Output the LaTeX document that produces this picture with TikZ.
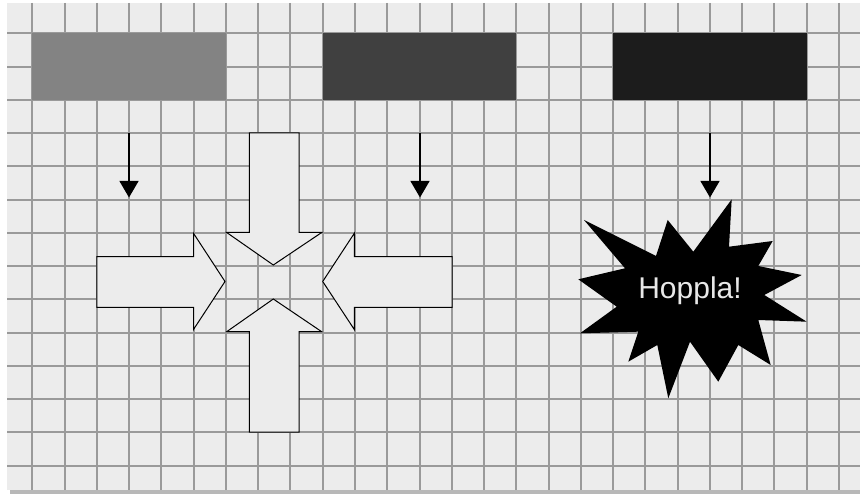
\documentclass[tikz,border=0pt]{standalone}
\usepackage{fontspec}
\setmainfont{Liberation Sans}
\usetikzlibrary{arrows.meta}
\definecolor{bg}{HTML}{ECECEC}
\definecolor{gridc}{HTML}{9A9A9A}
\definecolor{shadowc}{HTML}{B8B8B8}
\definecolor{boxa}{HTML}{838383}
\definecolor{boxb}{HTML}{404040}
\definecolor{boxc}{HTML}{1C1C1C}
\definecolor{texc}{HTML}{E8E8E8}
\tikzset{
  gridline/.style={draw=gridc, line width=1.5pt},
  colbox/.style={draw=none, minimum width=193.6pt, minimum height=66.5pt, inner sep=0pt},
  droparrow/.style={draw=black, line width=1.2pt, -{Triangle[width=19pt,length=16.5pt]}},
  blockarrow/.style={draw=black, fill=bg, line width=1pt, line join=miter},
  burst/.style={fill=black},
  bursttext/.style={text=texc, font=\fontsize{30}{36}\selectfont, inner sep=0pt, anchor=base}
}
\begin{document}
\begin{tikzpicture}[x=1pt,y=-1pt]
\useasboundingbox (0,0) rectangle (860,494);
\fill[white] (0,0) rectangle (860,494);
\fill[shadowc] (10,489) rectangle (860,494);
\fill[bg] (7,3) rectangle (860,490);
\begin{scope}
  \clip (7,3) rectangle (860,490);
  \foreach \i in {1,...,26} {
    \pgfmathsetmacro{\gxx}{round(\i*32.27)}
    \draw[gridline] (\gxx,3) -- (\gxx,490);
  }
  \foreach \j in {1,...,14} {
    \pgfmathsetmacro{\gyy}{round(\j*33.25)}
    \draw[gridline] (7,\gyy) -- (860,\gyy);
  }
\end{scope}

% colour boxes
\node[colbox, fill=boxa] (boxA) at (129.1,66.5) {};
\node[colbox, fill=boxb] (boxB) at (419.5,66.5) {};
\node[colbox, fill=boxc] (boxC) at (709.9,66.5) {};

% small drop arrows
\coordinate (dA1) at (129,133);
\coordinate (dA2) at (129,197.5);
\coordinate (dB1) at (420,133);
\coordinate (dB2) at (420,197.5);
\coordinate (dC1) at (710,133);
\coordinate (dC2) at (710,197.5);
\draw[droparrow] (dA1) -- (dA2);
\draw[droparrow] (dB1) -- (dB2);
\draw[droparrow] (dC1) -- (dC2);

% block arrows pointing to the centre
\path[blockarrow] (96.8,256.7) -- (193.5,256.7) -- (193.5,233.3) -- (225,281.5)
  -- (193.5,329.5) -- (193.5,307.3) -- (96.8,307.3) -- cycle;
\path[blockarrow] (452,256.7) -- (354.3,256.7) -- (354.3,233.3) -- (322.7,281.5)
  -- (354.3,329.5) -- (354.3,307.3) -- (452,307.3) -- cycle;
\path[blockarrow] (249.3,133) -- (299,133) -- (299,232.5) -- (321.7,232.5)
  -- (273.3,265) -- (226.7,232.5) -- (249.3,232.5) -- cycle;
\path[blockarrow] (249.3,432) -- (299,432) -- (299,331.7) -- (321.7,331.7)
  -- (273.3,299) -- (226.7,331.7) -- (249.3,331.7) -- cycle;

% starburst
\path[burst] (731.7,199.3) -- (729,246.7) -- (772.7,241) -- (758.3,266)
  -- (801.7,275) -- (764.3,295) -- (806.7,321.7) -- (758.3,320)
  -- (770.7,365) -- (738.3,345) -- (718.3,381.7) -- (690,341.7)
  -- (668.3,398.3) -- (657.3,345) -- (628.3,361.7) -- (638.3,331.7)
  -- (580,333.3) -- (616.7,306.7) -- (578.3,279.3) -- (625,268.3)
  -- (584,220) -- (656,256) -- (667.7,220) -- (693.3,251.7) -- cycle;
\node[bursttext] (hop) at (690,298.3) {Hoppla!};
\end{tikzpicture}
\end{document}
